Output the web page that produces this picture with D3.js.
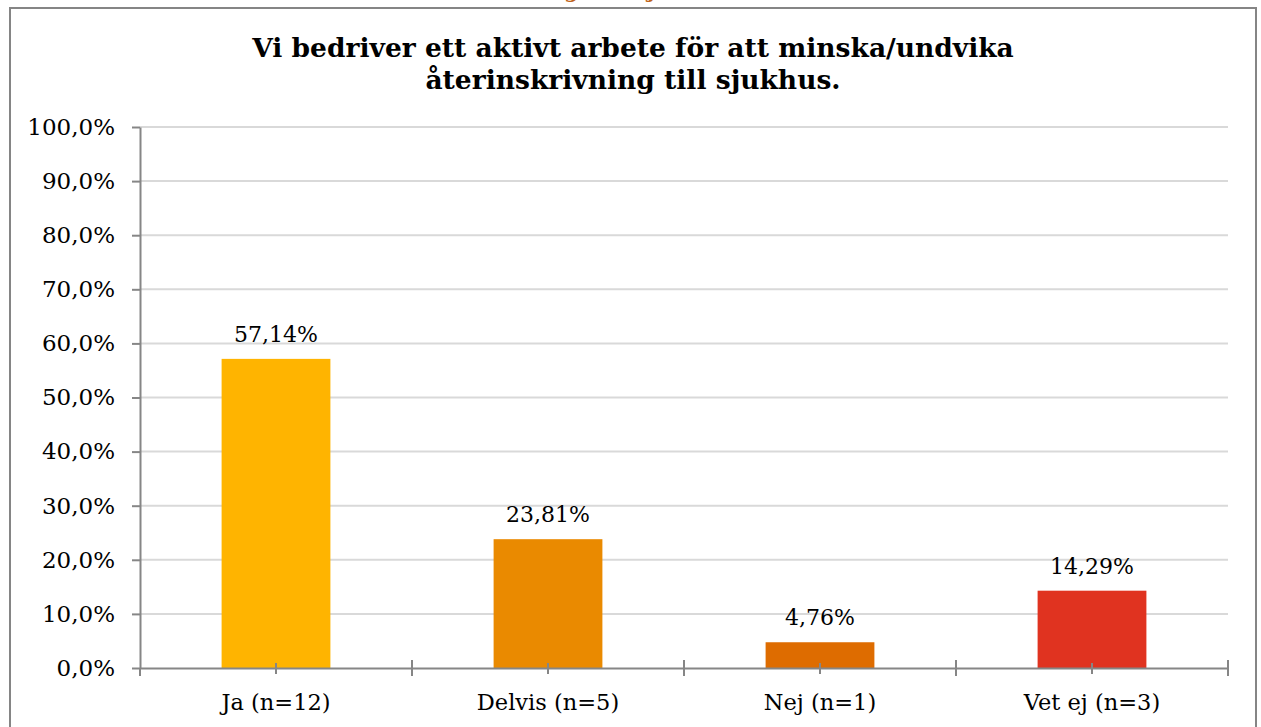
<!DOCTYPE html>
<html>
<head>
<meta charset="utf-8">
<script src="https://cdn.jsdelivr.net/npm/d3@7"></script>
<style>
  body { margin: 0; background: #fff; }
  text { font-family: "DejaVu Serif", Georgia, serif; fill: #000; }
</style>
</head>
<body>
<div class="chart"></div>
<script>
// chart data
var categories = ["Ja (n=12)", "Delvis (n=5)", "Nej (n=1)", "Vet ej (n=3)"];
var values = [57.14, 23.81, 4.76, 14.29];
var barColors = ["#FFB400", "#EA8A00", "#DE6C00", "#E03320"];
var yTicks = [0, 10, 20, 30, 40, 50, 60, 70, 80, 90, 100];
var titleLines = ["Vi bedriver ett aktivt arbete för att minska/undvika", "återinskrivning till sjukhus."];

var svgWidth = 1261;
var svgHeight = 727;
var margin = { top: 127, right: 33, bottom: 59, left: 140 };
var width = svgWidth - margin.left - margin.right;
var height = svgHeight - margin.top - margin.bottom;

var root = d3.select(".chart")
  .append("svg")
  .attr("width", svgWidth)
  .attr("height", svgHeight);

// cut-off heading from the page above the chart
root.append("text")
  .attr("x", 527)
  .attr("y", -2)
  .style("fill", "#C0631A")
  .style("font-weight", "bold")
  .style("font-size", "20px")
  .text("Fråga 9 – sjukhus");

// chart frame
root.append("rect")
  .attr("x", 10)
  .attr("y", 8)
  .attr("width", 1246)
  .attr("height", 800)
  .attr("fill", "none")
  .attr("stroke", "#858585")
  .attr("stroke-width", 2);

// title
root.append("g")
  .selectAll("text")
  .data(titleLines)
  .enter()
  .append("text")
  .attr("x", 633)
  .attr("y", function(d, i) { return 57 + i * 32; })
  .attr("text-anchor", "middle")
  .style("font-weight", "bold")
  .style("font-size", "26.5px")
  .text(function(d) { return d; });

var chart = root.append("g")
  .attr("transform", "translate(" + margin.left + "," + margin.top + ")");

var xBandScale = d3.scaleBand().domain(categories).range([0, width]);
var yLinearScale = d3.scaleLinear().domain([0, 100]).range([height, 0]);

var fmtAxis = function(d) { return d3.format(".1f")(d).replace(".", ",") + "%"; };
var fmtLabel = function(d) { return d3.format(".2f")(d).replace(".", ",") + "%"; };

// gridlines
chart.append("g")
  .selectAll("line")
  .data(yTicks.filter(function(d) { return d > 0; }))
  .enter()
  .append("line")
  .attr("x1", 0)
  .attr("x2", width)
  .attr("y1", function(d) { return yLinearScale(d); })
  .attr("y2", function(d) { return yLinearScale(d); })
  .attr("stroke", "#D9D9D9")
  .attr("stroke-width", 2);

// bars
chart.append("g")
  .selectAll("rect")
  .data(values)
  .enter()
  .append("rect")
  .attr("x", function(d, i) { return xBandScale(categories[i]) + xBandScale.bandwidth() * 0.3; })
  .attr("width", xBandScale.bandwidth() * 0.4)
  .attr("y", function(d) { return yLinearScale(d); })
  .attr("height", function(d) { return height - yLinearScale(d); })
  .attr("fill", function(d, i) { return barColors[i]; });

// data labels
chart.append("g")
  .selectAll("text")
  .data(values)
  .enter()
  .append("text")
  .attr("x", function(d, i) { return xBandScale(categories[i]) + xBandScale.bandwidth() / 2; })
  .attr("y", function(d) { return yLinearScale(d) - 17; })
  .attr("text-anchor", "middle")
  .style("font-size", "22px")
  .text(fmtLabel);

// y axis
var leftAxis = d3.axisLeft(yLinearScale)
  .tickValues(yTicks)
  .tickFormat(fmtAxis)
  .tickSizeInner(8)
  .tickSizeOuter(0)
  .tickPadding(17);

var yAxis = chart.append("g").call(leftAxis);
yAxis.selectAll("text").style("font-size", "23px");

// x axis
var bottomAxis = d3.axisBottom(xBandScale)
  .tickSizeInner(6)
  .tickSizeOuter(0)
  .tickPadding(20);

var xAxis = chart.append("g")
  .attr("transform", "translate(0," + height + ")")
  .call(bottomAxis);
xAxis.selectAll("text").style("font-size", "22.5px");
xAxis.selectAll(".tick line").attr("y1", -5);

// category boundary ticks
var bounds = categories.map(function(c) { return xBandScale(c); }).concat([width]);
xAxis.selectAll(".bound")
  .data(bounds)
  .enter()
  .append("line")
  .attr("class", "bound")
  .attr("x1", function(d) { return d; })
  .attr("x2", function(d) { return d; })
  .attr("y1", function(d, i) { return i === 0 ? 0 : -8; })
  .attr("y2", 8);

root.selectAll(".domain, .tick line, .bound")
  .attr("stroke", "#868686")
  .attr("stroke-width", 2);
</script>
</body>
</html>
